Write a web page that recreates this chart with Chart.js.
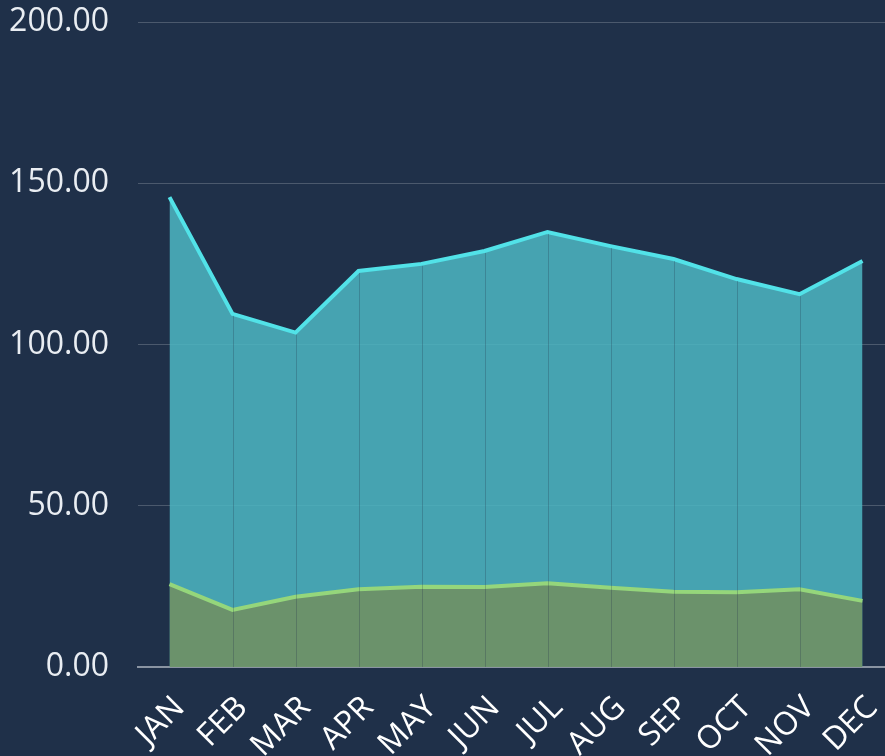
<!DOCTYPE html>
<html>
<head>
<meta charset="utf-8">
<script src="https://cdn.jsdelivr.net/npm/chart.js@4"></script>
<style>
  html, body { margin: 0; padding: 0; background: #1f3049; overflow: hidden; }
  #wrap { position: relative; width: 894px; height: 756px; }
</style>
</head>
<body>
<div id="wrap"><canvas id="c"></canvas></div>
<script>
const categories = ['JAN','FEB','MAR','APR','MAY','JUN','JUL','AUG','SEP','OCT','NOV','DEC'];
const upperSeries = [145.7, 109.5, 103.7, 122.8, 125.0, 129.0, 134.9, 130.5, 126.5, 120.3, 115.6, 125.9];
const lowerSeries = [25.7, 17.7, 21.8, 24.1, 24.9, 24.8, 26.0, 24.6, 23.3, 23.2, 24.1, 20.5];
const yTicks = [0, 50, 100, 150, 200];

const seamPlugin = {
  id: 'seams',
  afterDatasetsDraw(chart) {
    const ctx = chart.ctx;
    const meta = chart.getDatasetMeta(0);
    const bottom = chart.scales.y.getPixelForValue(0);
    ctx.save();
    ctx.strokeStyle = 'rgba(31,48,73,0.25)';
    ctx.lineWidth = 1;
    meta.data.forEach((pt, i) => {
      if (i === 0 || i === meta.data.length - 1) return;
      const x = Math.round(pt.x) + 0.5;
      ctx.beginPath();
      ctx.moveTo(x, pt.y + 2);
      ctx.lineTo(x, bottom);
      ctx.stroke();
    });
    ctx.restore();
  }
};

new Chart(document.getElementById('c'), {
  type: 'line',
  data: {
    labels: categories,
    datasets: [
      {
        data: upperSeries,
        borderColor: '#52e2e8',
        backgroundColor: 'rgba(77,183,195,0.85)',
        borderWidth: 4,
        fill: 'origin',
        pointRadius: 0,
        tension: 0,
        order: 2
      },
      {
        data: lowerSeries,
        borderColor: '#95d67b',
        backgroundColor: 'rgba(114,143,95,0.85)',
        borderWidth: 4,
        fill: 'origin',
        pointRadius: 0,
        tension: 0,
        order: 1
      }
    ]
  },
  options: {
    responsive: true,
    maintainAspectRatio: false,
    animation: false,
    layout: { padding: { left: 0, top: 22, right: 0, bottom: 0 } },
    plugins: { legend: { display: false }, tooltip: { enabled: false } },
    scales: {
      x: {
        offset: true,
        grid: { display: false, drawTicks: false },
        border: { display: true, color: '#8a94a2', width: 2 },
        ticks: {
          color: '#ffffff',
          font: { family: 'Open Sans', size: 32 },
          maxRotation: 45,
          minRotation: 45,
          padding: 22,
          labelOffset: 10,
          autoSkip: false
        },
        afterFit(scale) {
          scale.paddingLeft = 0;
          scale.paddingRight = 0;
          scale.height = 89;
        }
      },
      y: {
        min: 0,
        max: 200,
        afterBuildTicks(axis) { axis.ticks = yTicks.map(v => ({ value: v })); },
        grid: { color: 'rgba(255,255,255,0.2)', drawTicks: false, lineWidth: 1 },
        border: { display: false },
        ticks: {
          color: '#e9edf2',
          font: { family: 'Open Sans', size: 32 },
          padding: 29,
          callback: v => Number(v).toFixed(2)
        },
        afterFit(scale) {
          scale.paddingTop = 0;
          scale.paddingBottom = 0;
          scale.width = 138;
        }
      }
    }
  },
  plugins: [seamPlugin]
});
</script>
</body>
</html>
